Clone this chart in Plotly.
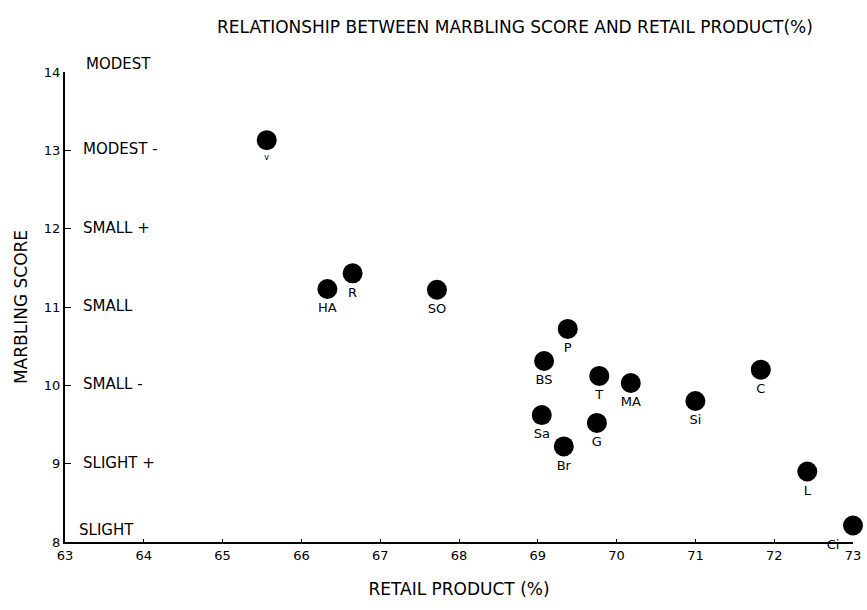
import plotly.graph_objects as go

# Data
breeds = ["v", "HA", "R", "SO", "P", "BS", "Sa", "Br", "T", "MA", "G", "Si", "C", "L", "Ci"]
retail_product = [65.56, 66.33, 66.65, 67.72, 69.38, 69.08, 69.05, 69.33, 69.78, 70.18, 69.75, 71.0, 71.83, 72.42, 73.0]
marbling_score = [13.13, 11.23, 11.43, 11.22, 10.72, 10.31, 9.62, 9.22, 10.12, 10.03, 9.52, 9.8, 10.2, 8.9, 8.21]
label_pos = ["bottom center"] * 14 + ["bottom left"]
label_size = [8] + [13] * 14

x_ticks = [63, 64, 65, 66, 67, 68, 69, 70, 71, 72, 73]
y_ticks = [8, 9, 10, 11, 12, 13, 14]
grade_labels = ["SLIGHT", "SLIGHT +", "SMALL -", "SMALL", "SMALL +", "MODEST -", "MODEST"]

FONT = "DejaVu Sans"

fig = go.Figure()
fig.add_trace(go.Scatter(
    x=retail_product, y=marbling_score, mode="markers+text",
    text=breeds, textposition=label_pos,
    marker=dict(size=20, color="black"),
    textfont=dict(family=FONT, size=label_size, color="black"),
    cliponaxis=False, showlegend=False, hoverinfo="skip",
))

for yv, lab in zip(y_ticks, grade_labels):
    if yv == 8:
        ya, ys, xs = "bottom", 1, 12
    elif yv == 14:
        ya, ys, xs = "middle", 8, 19
    else:
        ya, ys, xs = "middle", 1, 16
    fig.add_annotation(x=0, xref="paper", y=yv, yref="y", text=lab, showarrow=False,
                       xanchor="left", yanchor=ya, xshift=xs, yshift=ys,
                       font=dict(family=FONT, size=15, color="black"))

fig.update_layout(
    width=867, height=610,
    margin=dict(l=65, r=14, t=72, b=68),
    paper_bgcolor="white", plot_bgcolor="white",
    title=dict(text="RELATIONSHIP BETWEEN MARBLING SCORE AND RETAIL PRODUCT(%)",
               x=0.594, xanchor="center", y=0.955, yanchor="middle",
               font=dict(family=FONT, size=17, color="black")),
    font=dict(family=FONT, color="black"),
)
fig.update_xaxes(range=[63, 73], tickvals=x_ticks, ticktext=[str(v) for v in x_ticks],
                 showline=True, linecolor="black", linewidth=2, showgrid=False, zeroline=False,
                 ticks="inside", ticklen=3, tickcolor="black", automargin=False,
                 tickfont=dict(family=FONT, size=13, color="black"),
                 title=dict(text="RETAIL PRODUCT (%)", standoff=22,
                            font=dict(family=FONT, size=17, color="black")))
fig.update_yaxes(range=[8, 14], tickvals=y_ticks, ticktext=[str(v) for v in y_ticks],
                 showline=True, linecolor="black", linewidth=2, showgrid=False, zeroline=False,
                 ticks="inside", ticklen=6, tickcolor="black", automargin=False,
                 tickfont=dict(family=FONT, size=13, color="black"),
                 title=dict(text="MARBLING SCORE", standoff=12,
                            font=dict(family=FONT, size=17, color="black")))

fig.write_html("out.html", config={"displayModeBar": False},
               post_script="document.body.style.margin='0';")
